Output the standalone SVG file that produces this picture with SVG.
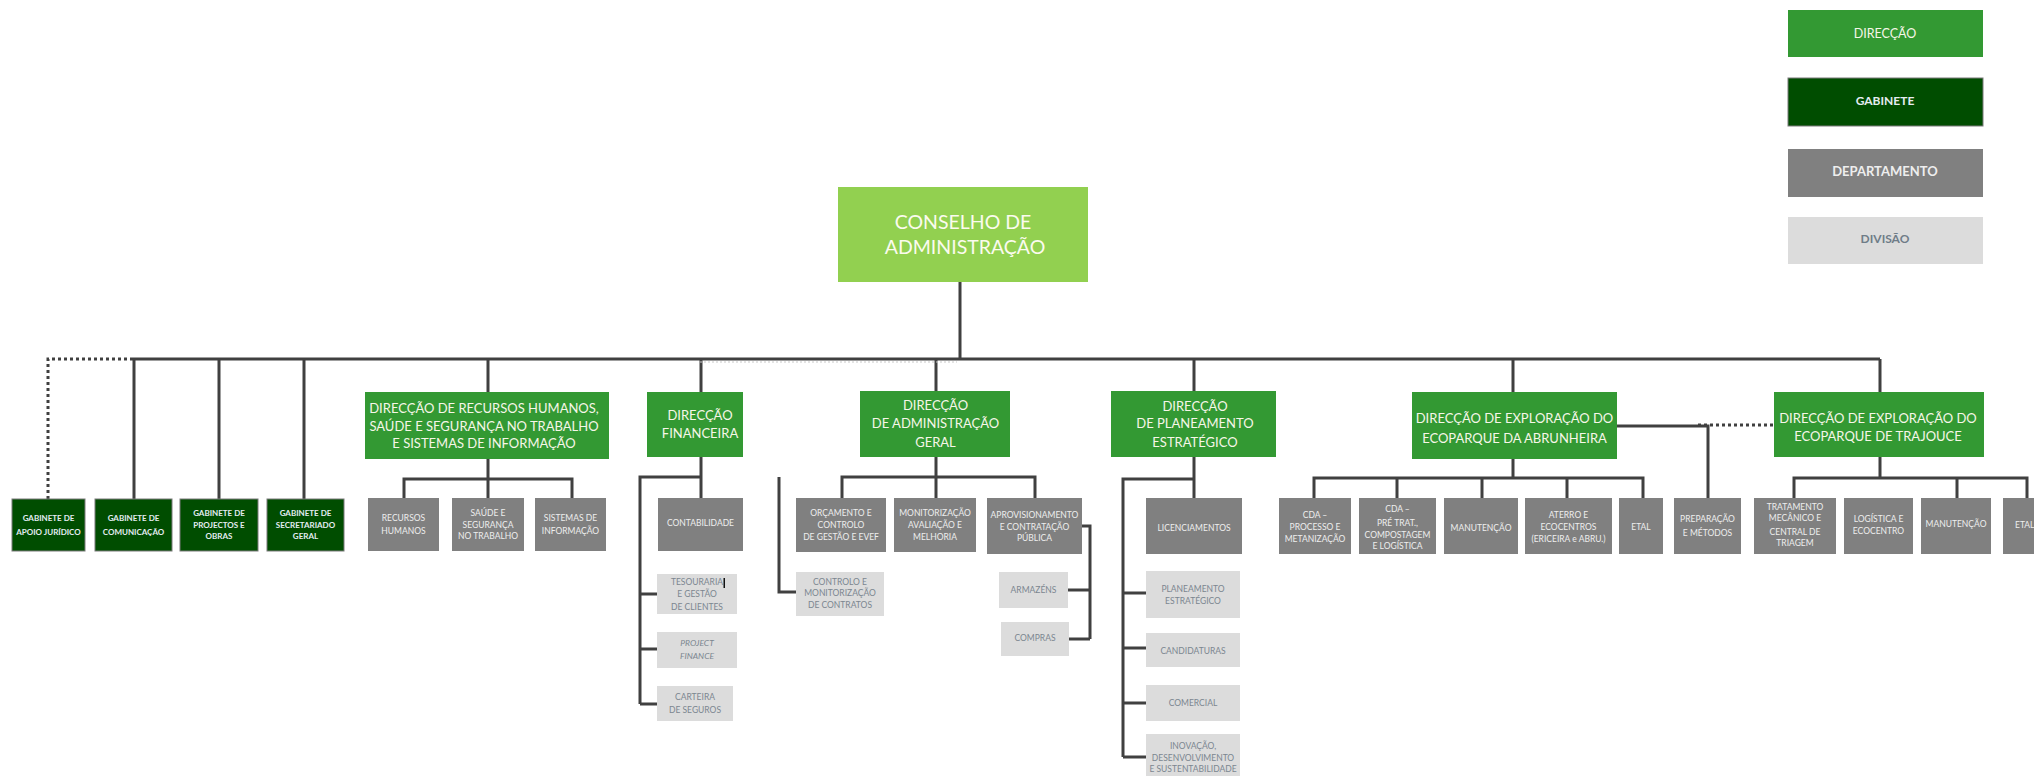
<svg xmlns="http://www.w3.org/2000/svg" width="2034" height="776" viewBox="0 0 2034 776">
<style>
text{font-family:Lato,"Liberation Sans",sans-serif;text-anchor:middle}
.ca{fill:#92d050}
.dir{fill:#339933}
.gab{fill:#004d00;stroke:#7a7a7a;stroke-width:1}
.dep{fill:#808080}
.div{fill:#dcdcdc}
.tca{fill:#fbfbee;font-size:19.5px}
.tdir{fill:#f6f6e8;font-size:13px}
.tgab{fill:#e4ecf2;font-size:8px;font-weight:700}
.tdep{fill:#eeeeee;font-size:8.5px}
.tdiv{fill:#7b8690;font-size:8.5px}
.tleg{font-size:12.5px}
.ln{fill:none;stroke:#404040;stroke-width:3}
.dot{fill:none;stroke:#404040;stroke-width:3;stroke-dasharray:3 3}
</style>
<g id="connectors">
<path class="ln" d="M133 359H1880M960 282V359"/>
<path class="dot" d="M133 359H48V499"/>
<path class="ln" d="M134 359V499M219 359V499M304 359V499"/>
<path class="ln" d="M488 359V392M488 459V498M404 498V479H572V498"/>
<path class="ln" d="M701 359V392M701 457V498M701 477H640V704M640 594H658M640 649H658M640 704H658"/>
<path class="ln" d="M936 359V391M936 457V498M842 498V477H1035V498M779 477V592H797"/>
<path class="ln" d="M1082 526H1090V639M1090 590H1068M1090 639H1069"/>
<path class="ln" d="M1194 359V391M1194 457V498M1194 479H1123V757M1123 593H1146M1123 648H1146M1123 703H1146M1123 757H1146"/>
<path class="ln" d="M1513 359V392M1513 459V478M1314 498V478H1643V498M1397 478V498M1482 478V498M1567 478V498"/>
<path class="ln" d="M1617 426H1708V498"/>
<path class="dot" d="M1698 425H1774"/>
<path class="ln" d="M1880 359V392M1880 457V478M1794 498V478H2027V498M1957 478V498"/>
<path fill="none" stroke="#c8c8c8" stroke-width="1" stroke-dasharray="2 2" d="M700 362H957"/>
</g>
<g id="legend-direccao"><rect class="dir" x="1788" y="10" width="195" height="47"/><text class="tleg" x="1885" y="38" fill="#f6f6e8" style="font-weight:400">DIRECÇÃO</text></g>
<g id="legend-gabinete"><rect class="gab" x="1788" y="78" width="195" height="48"/><text class="tleg" x="1885" y="105" fill="#e4ecf2" style="font-weight:700;font-size:12px">GABINETE</text></g>
<g id="legend-departamento"><rect class="dep" x="1788" y="149" width="195" height="48"/><text class="tleg" x="1885" y="176" fill="#eeeeee" style="font-weight:700;font-size:13px">DEPARTAMENTO</text></g>
<g id="legend-divisao"><rect class="div" x="1788" y="217" width="195" height="47"/><text class="tleg" x="1885" y="243" fill="#6f7c88" style="font-weight:700;font-size:12px">DIVISÃO</text></g>
<g id="conselho"><rect class="ca" x="838" y="187" width="250" height="95"/><text class="tca" x="963" y="229">CONSELHO DE</text><text class="tca" x="965" y="254">ADMINISTRAÇÃO</text></g>
<g id="gab-juridico"><rect class="gab" x="12" y="499" width="73" height="52"/><text class="tgab" x="48.5" y="521">GABINETE DE</text><text class="tgab" x="48.5" y="535">APOIO JURÍDICO</text></g>
<g id="gab-comunicacao"><rect class="gab" x="95" y="499" width="77" height="52"/><text class="tgab" x="133.5" y="521">GABINETE DE</text><text class="tgab" x="133.5" y="535">COMUNICAÇÃO</text></g>
<g id="gab-projectos"><rect class="gab" x="180" y="499" width="78" height="52"/><text class="tgab" x="219" y="516">GABINETE DE</text><text class="tgab" x="219" y="527.5">PROJECTOS E</text><text class="tgab" x="219" y="539">OBRAS</text></g>
<g id="gab-secretariado"><rect class="gab" x="267" y="499" width="77" height="52"/><text class="tgab" x="305.5" y="516">GABINETE DE</text><text class="tgab" x="305.5" y="527.5">SECRETARIADO</text><text class="tgab" x="305.5" y="539">GERAL</text></g>
<g id="dir-rh"><rect class="dir" x="365" y="392" width="244" height="67"/><text class="tdir" x="484" y="413">DIRECÇÃO DE RECURSOS HUMANOS,</text><text class="tdir" x="484" y="430.5">SAÚDE E SEGURANÇA NO TRABALHO</text><text class="tdir" x="484" y="448">E SISTEMAS DE INFORMAÇÃO</text></g>
<g id="dep-rh"><rect class="dep" x="368" y="498" width="71" height="53"/><text class="tdep" x="403.5" y="521">RECURSOS</text><text class="tdep" x="403.5" y="534">HUMANOS</text></g>
<g id="dep-sst"><rect class="dep" x="452" y="498" width="72" height="53"/><text class="tdep" x="488" y="516">SAÚDE E</text><text class="tdep" x="488" y="528">SEGURANÇA</text><text class="tdep" x="488" y="539">NO TRABALHO</text></g>
<g id="dep-si"><rect class="dep" x="535" y="498" width="71" height="53"/><text class="tdep" x="570.5" y="521">SISTEMAS DE</text><text class="tdep" x="570.5" y="534">INFORMAÇÃO</text></g>
<g id="dir-fin"><rect class="dir" x="647" y="392" width="96" height="65"/><text class="tdir" x="700" y="420">DIRECÇÃO</text><text class="tdir" x="700" y="438">FINANCEIRA</text></g>
<g id="dep-contab"><rect class="dep" x="658" y="498" width="85" height="53"/><text class="tdep" x="700.5" y="526">CONTABILIDADE</text></g>
<g id="div-tesouraria"><rect class="div" x="657" y="574" width="80" height="40"/><text class="tdiv" x="697" y="585">TESOURARIA</text><text class="tdiv" x="697" y="597">E GESTÃO</text><text class="tdiv" x="697" y="610">DE CLIENTES</text><rect x="723.5" y="578" width="1.5" height="10" fill="#111"/></g>
<g id="div-project"><rect class="div" x="657" y="632" width="80" height="36"/><text class="tdiv" x="697" y="646" font-style="italic">PROJECT</text><text class="tdiv" x="697" y="659" font-style="italic">FINANCE</text></g>
<g id="div-carteira"><rect class="div" x="657" y="686" width="76" height="35"/><text class="tdiv" x="695" y="700">CARTEIRA</text><text class="tdiv" x="695" y="713">DE SEGUROS</text></g>
<g id="dir-adm"><rect class="dir" x="860" y="391" width="150" height="66"/><text class="tdir" x="935.5" y="410">DIRECÇÃO</text><text class="tdir" x="935.5" y="428">DE ADMINISTRAÇÃO</text><text class="tdir" x="935.5" y="447">GERAL</text></g>
<g id="dep-orcamento"><rect class="dep" x="796" y="498" width="90" height="54"/><text class="tdep" x="841" y="516">ORÇAMENTO E</text><text class="tdep" x="841" y="528">CONTROLO</text><text class="tdep" x="841" y="540">DE GESTÃO E EVEF</text></g>
<g id="dep-monit"><rect class="dep" x="894" y="498" width="82" height="54"/><text class="tdep" x="935" y="516">MONITORIZAÇÃO</text><text class="tdep" x="935" y="528">AVALIAÇÃO E</text><text class="tdep" x="935" y="540">MELHORIA</text></g>
<g id="dep-aprov"><rect class="dep" x="987" y="498" width="95" height="56"/><text class="tdep" x="1034.5" y="518">APROVISIONAMENTO</text><text class="tdep" x="1034.5" y="530">E CONTRATAÇÃO</text><text class="tdep" x="1034.5" y="541">PÚBLICA</text></g>
<g id="div-controlo"><rect class="div" x="796" y="572" width="88" height="44"/><text class="tdiv" x="840" y="585">CONTROLO E</text><text class="tdiv" x="840" y="596">MONITORIZAÇÃO</text><text class="tdiv" x="840" y="608">DE CONTRATOS</text></g>
<g id="div-armazens"><rect class="div" x="999" y="572" width="69" height="36"/><text class="tdiv" x="1033.5" y="593">ARMAZÉNS</text></g>
<g id="div-compras"><rect class="div" x="1001" y="622" width="68" height="34"/><text class="tdiv" x="1035" y="641">COMPRAS</text></g>
<g id="dir-plan"><rect class="dir" x="1111" y="391" width="165" height="66"/><text class="tdir" x="1195" y="411">DIRECÇÃO</text><text class="tdir" x="1195" y="428">DE PLANEAMENTO</text><text class="tdir" x="1195" y="447">ESTRATÉGICO</text></g>
<g id="dep-lic"><rect class="dep" x="1146" y="498" width="96" height="56"/><text class="tdep" x="1194" y="531">LICENCIAMENTOS</text></g>
<g id="div-planeamento"><rect class="div" x="1146" y="571" width="94" height="47"/><text class="tdiv" x="1193" y="592">PLANEAMENTO</text><text class="tdiv" x="1193" y="604">ESTRATÉGICO</text></g>
<g id="div-candidaturas"><rect class="div" x="1146" y="633" width="94" height="34"/><text class="tdiv" x="1193" y="654">CANDIDATURAS</text></g>
<g id="div-comercial"><rect class="div" x="1146" y="685" width="94" height="36"/><text class="tdiv" x="1193" y="706">COMERCIAL</text></g>
<g id="div-inovacao"><rect class="div" x="1146" y="734" width="94" height="42"/><text class="tdiv" x="1193" y="749">INOVAÇÃO,</text><text class="tdiv" x="1193" y="761">DESENVOLVIMENTO</text><text class="tdiv" x="1193" y="772">E SUSTENTABILIDADE</text></g>
<g id="dir-abrunheira"><rect class="dir" x="1412" y="392" width="205" height="67"/><text class="tdir" x="1514.5" y="423">DIRECÇÃO DE EXPLORAÇÃO DO</text><text class="tdir" x="1514.5" y="443">ECOPARQUE DA ABRUNHEIRA</text></g>
<g id="dep-cda1"><rect class="dep" x="1279" y="498" width="72" height="56"/><text class="tdep" x="1315" y="518">CDA –</text><text class="tdep" x="1315" y="530">PROCESSO E</text><text class="tdep" x="1315" y="542">METANIZAÇÃO</text></g>
<g id="dep-cda2"><rect class="dep" x="1359" y="498" width="77" height="56"/><text class="tdep" x="1397.5" y="512">CDA –</text><text class="tdep" x="1397.5" y="526">PRÉ TRAT.,</text><text class="tdep" x="1397.5" y="538">COMPOSTAGEM</text><text class="tdep" x="1397.5" y="549">E LOGÍSTICA</text></g>
<g id="dep-manut1"><rect class="dep" x="1444" y="498" width="74" height="56"/><text class="tdep" x="1481" y="531">MANUTENÇÃO</text></g>
<g id="dep-aterro"><rect class="dep" x="1525" y="498" width="87" height="56"/><text class="tdep" x="1568.5" y="518">ATERRO E</text><text class="tdep" x="1568.5" y="530">ECOCENTROS</text><text class="tdep" x="1568.5" y="542">(ERICEIRA e ABRU.)</text></g>
<g id="dep-etal1"><rect class="dep" x="1619" y="498" width="44" height="56"/><text class="tdep" x="1641" y="530">ETAL</text></g>
<g id="dep-preparacao"><rect class="dep" x="1674" y="498" width="67" height="56"/><text class="tdep" x="1707.5" y="522">PREPARAÇÃO</text><text class="tdep" x="1707.5" y="536">E MÉTODOS</text></g>
<g id="dir-trajouce"><rect class="dir" x="1774" y="392" width="210" height="65"/><text class="tdir" x="1878" y="423">DIRECÇÃO DE EXPLORAÇÃO DO</text><text class="tdir" x="1878" y="441">ECOPARQUE DE TRAJOUCE</text></g>
<g id="dep-tratamento"><rect class="dep" x="1754" y="498" width="82" height="56"/><text class="tdep" x="1795" y="510">TRATAMENTO</text><text class="tdep" x="1795" y="521">MECÂNICO E</text><text class="tdep" x="1795" y="535">CENTRAL DE</text><text class="tdep" x="1795" y="546">TRIAGEM</text></g>
<g id="dep-logistica"><rect class="dep" x="1844" y="498" width="69" height="56"/><text class="tdep" x="1878.5" y="522">LOGÍSTICA E</text><text class="tdep" x="1878.5" y="534">ECOCENTRO</text></g>
<g id="dep-manut2"><rect class="dep" x="1921" y="498" width="70" height="56"/><text class="tdep" x="1956" y="527">MANUTENÇÃO</text></g>
<g id="dep-etal2"><rect class="dep" x="2003" y="498" width="60" height="56"/><text class="tdep" x="2015" y="528" style="text-anchor:start">ETAL</text></g>
</svg>
